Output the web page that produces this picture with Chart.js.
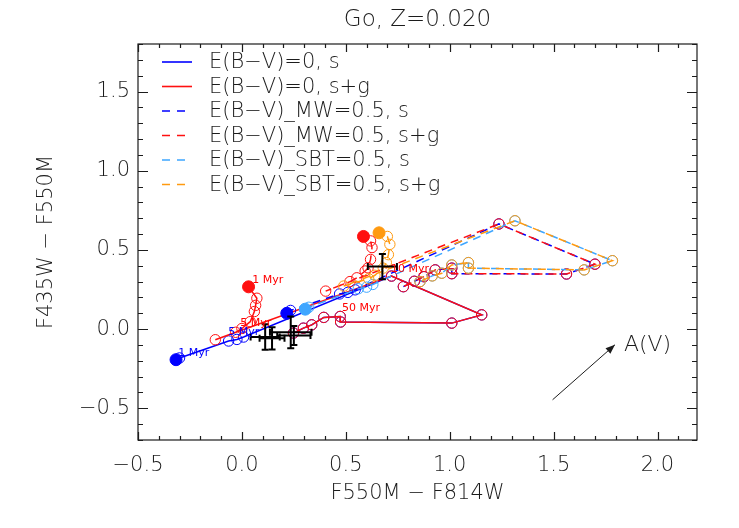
<!DOCTYPE html>
<html><head><meta charset="utf-8">
<script src="https://cdn.jsdelivr.net/npm/chart.js@4"></script>
<style>html,body{margin:0;padding:0;background:#fff}</style>
</head><body>
<canvas id="c" width="739" height="528"></canvas>
<script>
// ---- data ----
const xTicks = [-0.5, 0.0, 0.5, 1.0, 1.5, 2.0];
const yTicks = [-0.5, 0.0, 0.5, 1.0, 1.5];
const seriesLabels = ['E(B\u2212V)=0, s','E(B\u2212V)=0, s+g','E(B\u2212V)_MW=0.5, s','E(B\u2212V)_MW=0.5, s+g','E(B\u2212V)_SBT=0.5, s','E(B\u2212V)_SBT=0.5, s+g'];

// E(B-V)=0, stars only
const e0sX = [-0.317,-0.300,-0.064,-0.024,0.008,0.720,1.154,1.010,0.475,0.473,0.394,0.336,0.296,0.248];
const e0sY = [-0.193,-0.182,-0.075,-0.065,-0.050,0.335,0.090,0.038,0.045,0.080,0.074,0.027,0.006,-0.025];
// E(B-V)=0, stars+gas
const e0gX = [0.032,0.072,0.066,0.060,0.040,0.000,-0.030,-0.128,0.720,1.154,1.010,0.475,0.473,0.394,0.336,0.296,0.248];
const e0gY = [0.267,0.195,0.150,0.111,0.047,0.004,-0.020,-0.067,0.335,0.090,0.038,0.045,0.080,0.074,0.027,0.006,-0.025];
// MW extinction, stars only
const mwsX = [0.216,0.234,0.470,0.510,0.545,1.237,1.699,1.562,1.010,1.010,0.930,0.876,0.830,0.777];
const mwsY = [0.100,0.118,0.222,0.232,0.248,0.664,0.410,0.348,0.350,0.385,0.374,0.331,0.302,0.268];
// MW extinction, stars+gas
const mwgX = [0.585,0.619,0.626,0.619,0.607,0.593,0.553,0.520,0.403,1.237,1.699,1.562,1.010,1.010,0.930,0.876,0.830,0.777];
const mwgY = [0.585,0.557,0.515,0.440,0.387,0.367,0.324,0.300,0.240,0.664,0.410,0.348,0.350,0.385,0.374,0.331,0.302,0.268];
// SBT extinction, stars only
const sbsX = [0.305,0.322,0.560,0.600,0.630,1.314,1.783,1.647,1.090,1.090,1.010,0.962,0.916,0.857];
const sbsY = [0.126,0.138,0.255,0.265,0.282,0.684,0.432,0.374,0.385,0.420,0.405,0.353,0.336,0.300];
// SBT extinction, stars+gas
const sbgX = [0.660,0.700,0.712,0.705,0.695,0.680,0.640,0.610,0.490,1.314,1.783,1.647,1.090,1.090,1.010,0.962,0.916,0.857];
const sbgY = [0.608,0.585,0.535,0.470,0.420,0.385,0.340,0.318,0.272,0.684,0.432,0.374,0.385,0.420,0.405,0.353,0.336,0.300];

// observed clusters with errors
const obsX    = [0.112, 0.145, 0.235, 0.250, 0.676];
const obsY    = [-0.050,-0.058,-0.020,-0.040, 0.395];
const obsXerr = [0.070, 0.060, 0.100, 0.080, 0.070];
const obsYerr = [0.080, 0.070, 0.100, 0.060, 0.080];

// age annotations
const ageText  = ['1 Myr','5 Myr','1 Myr','5 Myr','50 Myr','10 Myr'];
const ageX     = [-0.306,-0.066, 0.050,-0.008, 0.482, 0.718];
const ageY     = [-0.149,-0.017, 0.310, 0.040, 0.134, 0.380];
const ageColor = ['#0000ff','#0000ff','#ff0000','#ff0000','#ff0000','#ff0000'];

// reddening arrow
const arrowFrom = [1.495,-0.446];
const arrowTo   = [1.795,-0.099];
const arrowLabel = 'A(V)';

// ---- chart ----
const BLUE='#0000ff', RED='#ff1010', LBLUE='#3ea6ff', ORANGE='#ff9a10';
const INK='#1c1c1c';
const FONT="'DejaVu Sans', sans-serif";
const FW='200';

function pts(xs,ys){return xs.map((v,i)=>({x:v,y:ys[i]}));}
function mk(label,xs,ys,color,dashed,order,dashOff){
  return {label, data:pts(xs,ys), showLine:true, borderColor:color, borderWidth:1.5,
    borderDash: dashed?[8,6]:[], borderDashOffset: dashOff||0,
    pointRadius: xs.map((v,i)=>i===0?6:5.2), pointBorderWidth:1,
    pointBorderColor: color, pointBackgroundColor: xs.map((v,i)=>i===0?color:'rgba(0,0,0,0)'),
    order, tension:0, _dashed:dashed};
}
const datasets = [
  mk(seriesLabels[0], e0sX, e0sY, BLUE,  false, 5),
  mk(seriesLabels[1], e0gX, e0gY, RED,   false, 4),
  mk(seriesLabels[2], mwsX, mwsY, BLUE,  true, 3),
  mk(seriesLabels[3], mwgX, mwgY, RED,   true, 2, 5),
  mk(seriesLabels[4], sbsX, sbsY, LBLUE, true, 1),
  mk(seriesLabels[5], sbgX, sbgY, ORANGE,true, 0, 5),
];

const decor = {
  id:'decor',
  afterDatasetsDraw(chart){
    const {ctx, chartArea:a, scales:{x,y}} = chart;
    ctx.save();
    // error bars
    ctx.strokeStyle='#000'; ctx.lineWidth=2;
    obsX.forEach((v,i)=>{
      const cx=x.getPixelForValue(v), cy=y.getPixelForValue(obsY[i]);
      const x0=x.getPixelForValue(v-obsXerr[i]), x1=x.getPixelForValue(v+obsXerr[i]);
      const y0=y.getPixelForValue(obsY[i]-obsYerr[i]), y1=y.getPixelForValue(obsY[i]+obsYerr[i]);
      const c=3.5;
      ctx.beginPath();
      ctx.moveTo(x0,cy);ctx.lineTo(x1,cy);ctx.moveTo(cx,y0);ctx.lineTo(cx,y1);
      ctx.moveTo(x0,cy-c);ctx.lineTo(x0,cy+c);ctx.moveTo(x1,cy-c);ctx.lineTo(x1,cy+c);
      ctx.moveTo(cx-c,y0);ctx.lineTo(cx+c,y0);ctx.moveTo(cx-c,y1);ctx.lineTo(cx+c,y1);
      ctx.stroke();
    });
    // age labels
    ctx.font="11px "+FONT; ctx.textBaseline='middle'; ctx.textAlign='left';
    ageText.forEach((t,i)=>{ctx.fillStyle=ageColor[i];ctx.fillText(t,x.getPixelForValue(ageX[i]),y.getPixelForValue(ageY[i]));});
    // arrow
    const ax0=x.getPixelForValue(arrowFrom[0]), ay0=y.getPixelForValue(arrowFrom[1]);
    const ax1=x.getPixelForValue(arrowTo[0]), ay1=y.getPixelForValue(arrowTo[1]);
    ctx.strokeStyle=INK; ctx.lineWidth=1;
    ctx.beginPath();ctx.moveTo(ax0,ay0);ctx.lineTo(ax1,ay1);ctx.stroke();
    const ang=Math.atan2(ay1-ay0,ax1-ax0), L=10, W=0.38;
    ctx.fillStyle=INK; ctx.beginPath(); ctx.moveTo(ax1,ay1);
    ctx.lineTo(ax1-L*Math.cos(ang-W), ay1-L*Math.sin(ang-W));
    ctx.lineTo(ax1-L*Math.cos(ang+W), ay1-L*Math.sin(ang+W)); ctx.closePath(); ctx.fill();
    ctx.font=FW+" 22px "+FONT; ctx.fillStyle=INK; ctx.textBaseline='middle';
    ctx.fillText(arrowLabel, ax1+9, ay1);
    // frame + inward ticks
    ctx.strokeStyle=INK; ctx.lineWidth=1.2;
    ctx.strokeRect(a.left,a.top,a.right-a.left,a.bottom-a.top);
    ctx.beginPath();
    for(let k=-5;k<=21;k++){const v=k/10; if(v<x.min-1e-9||v>x.max+1e-9)continue;
      const px=Math.round(x.getPixelForValue(v))+0.5; const len=(k%5===0)?8:4;
      ctx.moveTo(px,a.bottom);ctx.lineTo(px,a.bottom-len);ctx.moveTo(px,a.top);ctx.lineTo(px,a.top+len);}
    for(let k=-7;k<=18;k++){const v=k/10; if(v<y.min-1e-9||v>y.max+1e-9)continue;
      const py=Math.round(y.getPixelForValue(v))+0.5; const len=(k%5===0)?10:5;
      ctx.moveTo(a.left,py);ctx.lineTo(a.left+len,py);ctx.moveTo(a.right,py);ctx.lineTo(a.right-len,py);}
    ctx.stroke();
    // legend
    ctx.font=FW+" 21px "+FONT; ctx.textBaseline='middle';
    chart.data.datasets.forEach((d,i)=>{
      const ly=62+i*24.5;
      ctx.strokeStyle=d.borderColor; ctx.lineWidth=1.6;
      ctx.beginPath();
      if(d._dashed){ctx.moveTo(162,ly);ctx.lineTo(170,ly);ctx.moveTo(177,ly);ctx.lineTo(185,ly);}
      else {ctx.moveTo(162,ly);ctx.lineTo(192,ly);}
      ctx.stroke();
      ctx.fillStyle=INK; ctx.fillText(d.label,209,ly+1);
    });
    ctx.restore();
  }
};

const fmt = v => (v<0?'\u2212':'')+Math.abs(v).toFixed(1);
new Chart(document.getElementById('c'),{
  type:'scatter',
  data:{datasets},
  options:{
    responsive:false, animation:false, devicePixelRatio:1,
    layout:{padding:{left:0,right:42,top:0,bottom:0}},
    plugins:{
      legend:{display:false}, tooltip:{enabled:false},
      title:{display:true, text:'Go, Z=0.020', color:INK, fullSize:false,
        font:{family:FONT,size:23,weight:FW}, padding:{top:6,bottom:10.4}}
    },
    scales:{
      x:{type:'linear', min:-0.5, max:2.19,
        afterBuildTicks:s=>{s.ticks=xTicks.map(v=>({value:v}));},
        afterFit:s=>{s.height=88;},
        grid:{display:false,drawTicks:false}, border:{display:false},
        ticks:{callback:fmt, color:INK, font:{family:FONT,size:21,weight:FW}, padding:13, maxRotation:0},
        title:{display:true,text:'F550M \u2212 F814W',color:INK,font:{family:FONT,size:21,weight:FW},padding:{top:4,bottom:22}}},
      y:{type:'linear', min:-0.7, max:1.8,
        afterBuildTicks:s=>{s.ticks=yTicks.map(v=>({value:v}));},
        afterFit:s=>{s.width=138;},
        grid:{display:false,drawTicks:false}, border:{display:false},
        ticks:{callback:fmt, color:INK, font:{family:FONT,size:21,weight:FW}, padding:8},
        title:{display:true,text:'F435W \u2212 F550M',color:INK,font:{family:FONT,size:21,weight:FW},padding:{top:34,bottom:0}}}
    }
  },
  plugins:[decor]
});
</script>
</body></html>
